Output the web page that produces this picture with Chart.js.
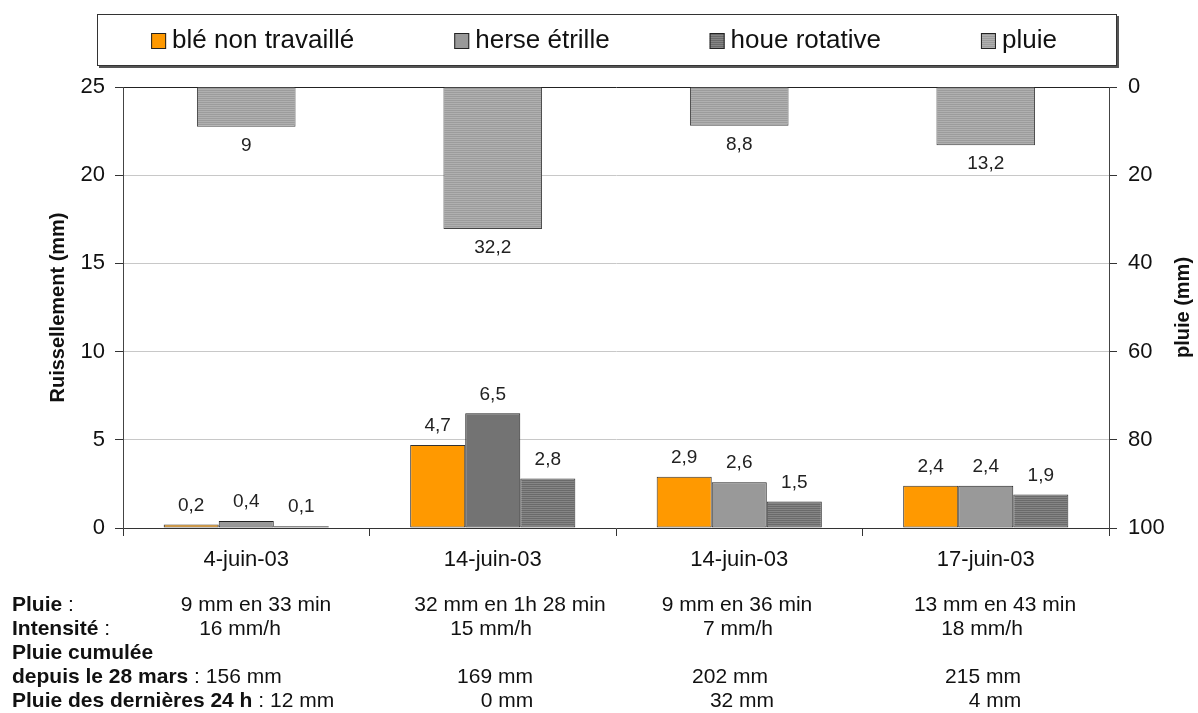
<!DOCTYPE html>
<html><head><meta charset="utf-8">
<script src="https://cdn.jsdelivr.net/npm/chart.js@4/dist/chart.umd.min.js"></script>
<style>
html,body{margin:0;padding:0;background:#fff;}
#wrap{position:relative;width:1198px;height:713px;overflow:hidden;}
#c{position:absolute;left:0;top:0;}
.t{position:absolute;font-family:"Liberation Sans",Arial,sans-serif;font-size:21px;color:#111;white-space:nowrap;line-height:24px;}
.c{transform:translateX(-50%);}
</style></head><body>
<div id="wrap"><canvas id="c" width="1198" height="713"></canvas><div id="tbl"></div></div>
<script>
// ---- data ----
const categories = ['4-juin-03', '14-juin-03', '14-juin-03', '17-juin-03'];
const seriesNames = ['blé non travaillé', 'herse étrille', 'houe rotative', 'pluie'];
const bleNonTravaille = [0.2, 4.7, 2.9, 2.4];
const herseEtrille = [0.4, 6.5, 2.6, 2.4];
const houeRotative = [0.1, 2.8, 1.5, 1.9];
const pluie = [9, 32.2, 8.8, 13.2];
const leftTicks = [0, 5, 10, 15, 20, 25];
const rightTicks = [0, 20, 40, 60, 80, 100];
const leftTitle = 'Ruissellement (mm)';
const rightTitle = 'pluie (mm)';
const rowHeads = ['Pluie', 'Intensité', 'Pluie cumulée', 'depuis le 28 mars', 'Pluie des dernières 24 h'];
const pluieTexte = ['9 mm en 33 min', '32 mm en 1h 28 min', '9 mm en 36 min', '13 mm en 43 min'];
const intensiteTexte = ['16 mm/h', '15 mm/h', '7 mm/h', '18 mm/h'];
const cumulTexte = ['156 mm', '169 mm', '202 mm', '215 mm'];
const dernieresTexte = ['12 mm', '0 mm', '32 mm', '4 mm'];

// ---- table below the chart (layout only) ----
const rowTops = [592, 616, 640, 664, 688];
const col1 = [256, 240];
const colCenters = [[510, 737, 995], [491, 738, 982], null, [495, 730, 983], [507, 742, 995]];
const tbl = document.getElementById('tbl');
function addText(html, left, top, center) {
  const d = document.createElement('div');
  d.className = 't' + (center ? ' c' : '');
  d.style.left = left + 'px'; d.style.top = top + 'px';
  d.innerHTML = html; tbl.appendChild(d);
}
addText('<b>' + rowHeads[0] + '</b> :', 12, rowTops[0]);
addText(pluieTexte[0], col1[0], rowTops[0], true);
addText('<b>' + rowHeads[1] + '</b> :', 12, rowTops[1]);
addText(intensiteTexte[0], col1[1], rowTops[1], true);
addText('<b>' + rowHeads[2] + '</b>', 12, rowTops[2]);
addText('<b>' + rowHeads[3] + '</b> : ' + cumulTexte[0], 12, rowTops[3]);
addText('<b>' + rowHeads[4] + '</b> : ' + dernieresTexte[0], 12, rowTops[4]);
const rowVals = [pluieTexte, intensiteTexte, null, cumulTexte, dernieresTexte];
rowVals.forEach((vals, r) => {
  if (!vals) return;
  for (let k = 1; k < vals.length; k++) addText(vals[k], colCenters[r][k - 1], rowTops[r], true);
});

// ---- patterns ----
function stripes(c1, c2) {
  const cv = document.createElement('canvas'); cv.width = 4; cv.height = 2;
  const x = cv.getContext('2d');
  x.fillStyle = c1; x.fillRect(0, 0, 4, 1);
  x.fillStyle = c2; x.fillRect(0, 1, 4, 1);
  return x.createPattern(cv, 'repeat');
}
const houePattern = stripes('#6a6a6a', '#858585');
const pluiePattern = stripes('#9c9c9c', '#b0b0b0');

const FONT = '"Liberation Sans", Arial, Helvetica, sans-serif';
Chart.defaults.font.family = FONT;
Chart.defaults.color = '#111';

// ---- plugins ----
const valueLabels = {
  id: 'valueLabels',
  afterDatasetsDraw(chart) {
    const ctx = chart.ctx;
    ctx.save();
    ctx.font = '19px ' + FONT;
    ctx.fillStyle = '#222'; ctx.textAlign = 'center'; ctx.textBaseline = 'middle';
    chart.data.datasets.forEach((ds, i) => {
      const meta = chart.getDatasetMeta(i);
      const down = ds.yAxisID === 'y1';
      meta.data.forEach((el, j) => {
        const txt = String(ds.data[j]).replace('.', ',');
        ctx.fillText(txt, el.x, down ? el.y + 19 : el.y - 19);
      });
    });
    ctx.restore();
  }
};
const boxLegend = {
  id: 'boxLegend',
  afterDraw(chart) {
    const ctx = chart.ctx;
    const ca = chart.chartArea;
    const fl = ca.left - 26, fr = ca.right + 8, ft = 14, fb = 66;
    ctx.save();
    ctx.fillStyle = '#555';
    ctx.fillRect(fl + 2, fb, fr - fl, 2);
    ctx.fillRect(fr, ft + 2, 2, fb - ft);
    ctx.fillStyle = '#fff';
    ctx.fillRect(fl, ft, fr - fl, fb - ft);
    ctx.strokeStyle = '#333'; ctx.lineWidth = 1;
    ctx.strokeRect(fl + 0.5, ft + 0.5, fr - fl - 1, fb - ft - 1);
    ctx.font = '26px ' + FONT;
    ctx.textBaseline = 'middle'; ctx.textAlign = 'left';
    const box = 17, gap = 4, spacing = 100;
    const items = chart.data.datasets.map(ds => {
      const w = box + gap + ctx.measureText(ds.label).width;
      return {ds, w};
    });
    const total = items.reduce((s, it) => s + it.w, 0) + spacing * (items.length - 1);
    let x = (fl + fr) / 2 - total / 2 - 3;
    const cy = (ft + fb) / 2 + 1;
    items.forEach(it => {
      const bg = Array.isArray(it.ds.backgroundColor) ? it.ds.backgroundColor[0] : it.ds.backgroundColor;
      ctx.fillStyle = bg;
      ctx.fillRect(x, cy - 8, box - 2, box - 1);
      ctx.strokeStyle = '#222';
      ctx.strokeRect(x + 0.5, cy - 7.5, box - 3, box - 2);
      ctx.fillStyle = '#111';
      ctx.fillText(it.ds.label, x + box + gap, cy);
      x += it.w + spacing;
    });
    // right axis title (reads bottom to top)
    const s = chart.scales.y1;
    ctx.save();
    ctx.translate(s.left + 74, (ca.top + ca.bottom) / 2);
    ctx.rotate(-Math.PI / 2);
    ctx.font = 'bold 20px ' + FONT;
    ctx.textAlign = 'center'; ctx.textBaseline = 'middle';
    ctx.fillText(rightTitle, 0, 0);
    ctx.restore();
    ctx.restore();
  }
};

new Chart(document.getElementById('c'), {
  type: 'bar',
  data: {
    labels: categories,
    datasets: [
      { label: seriesNames[0], data: bleNonTravaille, yAxisID: 'y', backgroundColor: '#ff9900', borderColor: '#333', borderWidth: 1, borderSkipped: false, categoryPercentage: 0.67, barPercentage: 1 },
      { label: seriesNames[1], data: herseEtrille, yAxisID: 'y', backgroundColor: ['#999999', '#737373', '#999999', '#999999'], borderColor: '#222', borderWidth: 1, borderSkipped: false, categoryPercentage: 0.67, barPercentage: 1 },
      { label: seriesNames[2], data: houeRotative, yAxisID: 'y', backgroundColor: houePattern, borderColor: '#333', borderWidth: 1, borderSkipped: false, categoryPercentage: 0.67, barPercentage: 1 },
      { label: seriesNames[3], data: pluie, yAxisID: 'y1', backgroundColor: pluiePattern, borderColor: '#444', borderWidth: 1, grouped: false, barPercentage: 0.4, categoryPercentage: 1 }
    ]
  },
  options: {
    responsive: false,
    animation: false,
    layout: { padding: { top: 87, left: 0, right: 0, bottom: 135 } },
    plugins: { legend: { display: false }, tooltip: { enabled: false } },
    scales: {
      x: {
        grid: { offset: true, drawOnChartArea: false, tickLength: 8, color: '#333' },
        border: { color: '#333', width: 1 },
        ticks: { font: { size: 22 }, color: '#111', padding: 11 },
        afterFit(s) { s.height = 50; }
      },
      y: {
        position: 'left', min: 0, max: 25,
        afterBuildTicks(s) { s.ticks = leftTicks.map(v => ({ value: v })); },
        grid: { color: ctx => ctx.tick && ctx.tick.value === 25 ? '#222' : '#c8c8c8', tickColor: '#333', tickLength: 8 },
        border: { color: '#444', width: 1 },
        ticks: { font: { size: 22 }, color: '#111', padding: 10 },
        title: { display: true, text: leftTitle, font: { size: 20, weight: 'bold' }, color: '#111', padding: { top: 46, bottom: 0 } },
        afterFit(s) { s.width = 123; }
      },
      y1: {
        position: 'right', min: 0, max: 100, reverse: true,
        afterBuildTicks(s) { s.ticks = rightTicks.map(v => ({ value: v })); },
        grid: { drawOnChartArea: false, tickColor: '#333', tickLength: 8 },
        border: { color: '#444', width: 1 },
        ticks: { font: { size: 22 }, color: '#111', padding: 11 },
        afterFit(s) { s.width = 89; }
      }
    }
  },
  plugins: [valueLabels, boxLegend]
});
</script>
</body></html>
